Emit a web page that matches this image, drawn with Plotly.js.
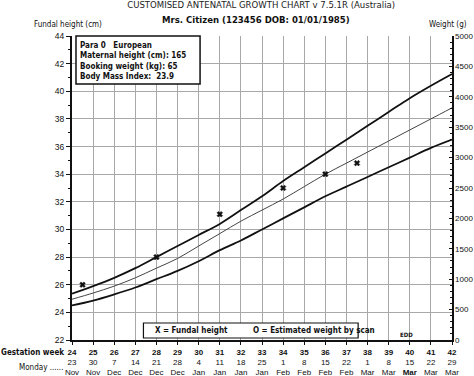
<!DOCTYPE html>
<html><head><meta charset="utf-8">
<script src="https://cdn.plot.ly/plotly-3.0.1.min.js"></script>
<style>html,body{margin:0;padding:0;background:#fff}#c{width:474px;height:376px}</style>
</head><body><div id="c"></div>
<script>
const weeks = [24,25,26,27,28,29,30,31,32,33,34,35,36,37,38,39,40,41,42];
const mondayDays = ['23','30','7','14','21','28','4','11','18','25','1','8','15','22','1','8','15','22','29'];
const mondayMonths = ['Nov','Nov','Dec','Dec','Dec','Dec','Jan','Jan','Jan','Jan','Feb','Feb','Feb','Feb','Mar','Mar','Mar','Mar','Mar'];
const upper90 = [25.35,25.9,26.5,27.2,28.0,28.8,29.6,30.4,31.4,32.4,33.5,34.5,35.5,36.5,37.5,38.5,39.5,40.4,41.25];
const median50 = [24.95,25.4,25.9,26.5,27.2,27.9,28.8,29.7,30.6,31.4,32.2,33.1,34.0,34.8,35.6,36.4,37.2,38.0,38.8];
const lower10 = [24.5,24.85,25.3,25.8,26.4,27.0,27.7,28.5,29.2,30.0,30.8,31.6,32.4,33.1,33.8,34.5,35.2,35.9,36.5];
const fundalWeeks = [24.5,28,31,34,36,37.5];
const fundalHeights = [26.0,28.0,31.1,33.0,34.0,34.8];
const scanWeeks = [];
const scanWeights = [];
const infoLines = ['Para 0   European','Maternal height (cm): 165','Booking weight (kg): 65','Body Mass Index:  23.9'];

const NARROW = '"Liberation Sans Narrow", "DejaVu Sans Condensed", Arial, sans-serif';
const SANS = 'Arial, "Liberation Sans", sans-serif';

const ticktext = weeks.map((w,i)=> (w===40)
  ? '<b>'+w+'</b><br>'+mondayDays[i]+'<br><b>'+mondayMonths[i]+'</b>'
  : '<b>'+w+'</b><br>'+mondayDays[i]+'<br>'+mondayMonths[i]);

const traces = [
  {x:weeks, y:upper90, mode:'lines', line:{color:'#111', width:1.8, shape:'spline'}, hoverinfo:'skip'},
  {x:weeks, y:median50, mode:'lines', line:{color:'#444', width:1, shape:'spline'}, hoverinfo:'skip'},
  {x:weeks, y:lower10, mode:'lines', line:{color:'#111', width:1.8, shape:'spline'}, hoverinfo:'skip'},
  {x:fundalWeeks, y:fundalHeights, mode:'markers', marker:{symbol:'x', size:5, color:'#111', line:{width:0.5,color:'#111'}}},
  {x:scanWeeks, y:scanWeights, yaxis:'y2', mode:'markers', marker:{symbol:'circle-open', size:6, color:'#111'}}
];

const layout = {
  width:474, height:376,
  margin:{l:72, r:22, t:36, b:36},
  paper_bgcolor:'#fff', plot_bgcolor:'#fff',
  showlegend:false,
  font:{family:SANS, size:8.5, color:'#111'},
  title:{text:'CUSTOMISED ANTENATAL GROWTH CHART v 7.5.1R (Australia)', font:{family:NARROW, size:9.5, color:'#222'},
         x:0.551, xref:'container', xanchor:'center', y:0.997, yref:'container', yanchor:'top'},
  xaxis:{range:[24,42], tickmode:'array', tickvals:weeks, ticktext:ticktext,
         showgrid:true, gridcolor:'#a8a8a8', gridwidth:1, zeroline:false,
         showline:true, linecolor:'#111', linewidth:2, ticks:'outside', ticklen:3, tickcolor:'#111',
         tickfont:{family:SANS, size:8, color:'#111'}, fixedrange:true},
  yaxis:{range:[22,44], dtick:2, tick0:22, showgrid:true, gridcolor:'#a8a8a8', gridwidth:1, zeroline:false,
         showline:true, linecolor:'#111', linewidth:2, ticks:'outside', ticklen:4, tickcolor:'#111',
         minor:{dtick:1, ticks:'outside', ticklen:2, tickcolor:'#111', showgrid:false},
         tickfont:{family:SANS, size:8.5, color:'#111'}, fixedrange:true},
  yaxis2:{range:[0,5000], dtick:500, tick0:0, overlaying:'y', side:'right', anchor:'x',
          showgrid:false, zeroline:false, showline:true, linecolor:'#111', linewidth:1.5,
          ticks:'inside', ticklen:3, tickcolor:'#111',
          minor:{dtick:100, ticks:'inside', ticklen:2, tickcolor:'#111'},
          tickfont:{family:SANS, size:8, color:'#111'}, fixedrange:true},
  shapes:[
    {type:'rect', xref:'paper', yref:'paper', x0:0.0105, x1:0.337, y0:0.842, y1:1.0, line:{color:'#111', width:1.5}, fillcolor:'#fff', layer:'above'},
    {type:'rect', xref:'paper', yref:'paper', x0:0.188, x1:0.753, y0:0.0066, y1:0.056, line:{color:'#111', width:1.2}, fillcolor:'#fff', layer:'above'}
  ],
  annotations:[
    {text:'<b>Mrs. Citizen (123456 DOB: 01/01/1985)</b>', xref:'paper', yref:'paper', x:0.485, y:1.03, xanchor:'center', yanchor:'bottom', showarrow:false, font:{family:NARROW, size:9.5, color:'#111'}},
    {text:'Fundal height (cm)', xref:'paper', yref:'paper', x:-0.105, y:1.018, xanchor:'left', yanchor:'bottom', showarrow:false, font:{family:NARROW, size:8, color:'#111'}},
    {text:'Weight (g)', xref:'paper', yref:'paper', x:1.045, y:1.018, xanchor:'right', yanchor:'bottom', showarrow:false, font:{family:NARROW, size:8, color:'#111'}},
    {text:'<b>'+infoLines.join('<br>')+'</b>', xref:'paper', yref:'paper', x:0.016, y:0.99, xanchor:'left', yanchor:'top', align:'left', showarrow:false, font:{family:NARROW, size:8, color:'#111'}},
    {text:'<b>X = Fundal height</b>', xref:'paper', yref:'paper', x:0.213, y:0.031, xanchor:'left', yanchor:'middle', showarrow:false, font:{family:NARROW, size:8, color:'#111'}},
    {text:'<b>O = Estimated weight by scan</b>', xref:'paper', yref:'paper', x:0.47, y:0.031, xanchor:'left', yanchor:'middle', showarrow:false, font:{family:NARROW, size:8, color:'#111'}},
    {text:'<b>EDD</b>', xref:'x', yref:'paper', x:39.85, y:0.018, xanchor:'center', yanchor:'middle', showarrow:false, font:{family:NARROW, size:6, color:'#111'}},
    {text:'<b>Gestation week</b>', xref:'paper', yref:'paper', x:-0.192, y:-0.04, xanchor:'left', yanchor:'middle', showarrow:false, font:{family:NARROW, size:8, color:'#111'}},
    {text:'Monday ......', xref:'paper', yref:'paper', x:-0.145, y:-0.09, xanchor:'left', yanchor:'middle', showarrow:false, font:{family:NARROW, size:8, color:'#111'}}
  ]
};
Plotly.newPlot('c', traces, layout, {staticPlot:true, displayModeBar:false});
</script></body></html>
